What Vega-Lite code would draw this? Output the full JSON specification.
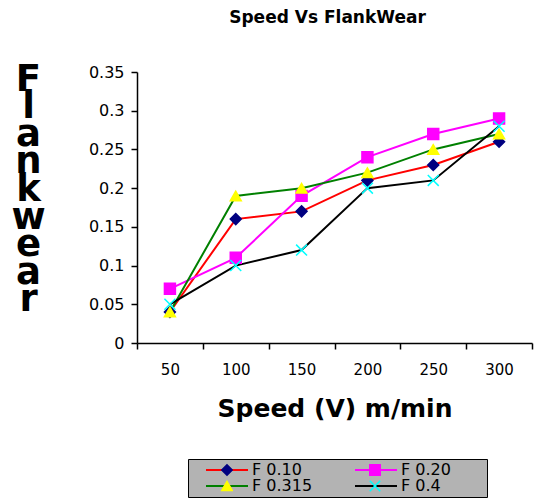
{
  "$schema": "https://vega.github.io/schema/vega-lite/v6.json",
  "width": 395,
  "height": 271,
  "autosize": {"type": "none"},
  "padding": {"left": 137, "top": 72, "right": 2, "bottom": 157},
  "background": "white",
  "title": {"text": "Speed Vs FlankWear", "font": "DejaVu Sans", "fontSize": 17, "fontWeight": "bold", "color": "black", "anchor": "middle", "offset": 33, "dx": -7},
  "config": {
    "view": {"stroke": null},
    "axis": {"domainColor": "black", "tickColor": "black", "domainWidth": 1.5, "tickWidth": 1.5, "labelColor": "black", "titleColor": "black", "grid": false}
  },
  "data": {"values": [
    {"speed": 50, "series": "F 0.10", "wear": 0.04},
    {"speed": 100, "series": "F 0.10", "wear": 0.16},
    {"speed": 150, "series": "F 0.10", "wear": 0.17},
    {"speed": 200, "series": "F 0.10", "wear": 0.21},
    {"speed": 250, "series": "F 0.10", "wear": 0.23},
    {"speed": 300, "series": "F 0.10", "wear": 0.26},
    {"speed": 50, "series": "F 0.20", "wear": 0.07},
    {"speed": 100, "series": "F 0.20", "wear": 0.11},
    {"speed": 150, "series": "F 0.20", "wear": 0.19},
    {"speed": 200, "series": "F 0.20", "wear": 0.24},
    {"speed": 250, "series": "F 0.20", "wear": 0.27},
    {"speed": 300, "series": "F 0.20", "wear": 0.29},
    {"speed": 50, "series": "F 0.315", "wear": 0.04},
    {"speed": 100, "series": "F 0.315", "wear": 0.19},
    {"speed": 150, "series": "F 0.315", "wear": 0.2},
    {"speed": 200, "series": "F 0.315", "wear": 0.22},
    {"speed": 250, "series": "F 0.315", "wear": 0.25},
    {"speed": 300, "series": "F 0.315", "wear": 0.27},
    {"speed": 50, "series": "F 0.4", "wear": 0.05},
    {"speed": 100, "series": "F 0.4", "wear": 0.1},
    {"speed": 150, "series": "F 0.4", "wear": 0.12},
    {"speed": 200, "series": "F 0.4", "wear": 0.2},
    {"speed": 250, "series": "F 0.4", "wear": 0.21},
    {"speed": 300, "series": "F 0.4", "wear": 0.28}
  ]},
  "encoding": {
    "x": {"field": "speed", "type": "ordinal",
      "scale": {"type": "band", "paddingInner": 0, "paddingOuter": 0},
      "axis": {"title": "Speed (V) m/min", "titleFont": "DejaVu Sans", "titleFontSize": 25, "titleFontWeight": "bold", "titlePadding": 19,
               "labelAngle": 0, "labelFont": "DejaVu Sans", "labelFontSize": 15, "labelPadding": 13, "tickSize": 6, "tickBand": "extent"}},
    "y": {"field": "wear", "type": "quantitative",
      "scale": {"domain": [0, 0.35], "nice": false, "zero": true},
      "axis": {"values": [0, 0.05, 0.1, 0.15, 0.2, 0.25, 0.3, 0.35], "format": ".2~f",
               "labelFont": "DejaVu Sans", "labelFontSize": 16, "labelPadding": 7, "tickSize": 6,
               "title": ["F", "l", "a", "n", "k", "w", "e", "a", "r"],
               "titleFont": "DejaVu Sans", "titleFontSize": 37, "titleFontWeight": "bold",
               "titleAngle": 0, "titleAlign": "center", "titleBaseline": "alphabetic",
               "titleLineHeight": 27.6, "titleX": -109, "titleY": 18}}
  },
  "layer": [
    {
      "mark": {"type": "line", "strokeWidth": 2},
      "encoding": {
        "color": {"field": "series", "type": "nominal",
          "scale": {"domain": ["F 0.10", "F 0.20", "F 0.315", "F 0.4"], "range": ["#ff0000", "#ff00ff", "#008000", "#000000"]},
          "legend": {"orient": "none", "legendX": 51, "legendY": 387, "columns": 2, "direction": "horizontal",
                     "title": " ", "titleOrient": "right", "titlePadding": 33, "titleFontSize": 10,
                     "symbolType": "stroke", "symbolSize": 1764, "symbolStrokeWidth": 1.8,
                     "clipHeight": 16, "labelFont": "DejaVu Sans", "labelFontSize": 16, "labelColor": "black",
                     "labelOffset": 3, "symbolOffset": 14, "columnPadding": 27, "rowPadding": 0, "padding": 3,
                     "fillColor": "#b3b3b3", "strokeColor": "black", "labelLimit": 0}}
      }
    },
    {
      "mark": {"type": "point", "filled": true, "opacity": 1, "size": 120, "strokeWidth": 1.5},
      "encoding": {
        "shape": {"field": "series", "type": "nominal",
          "scale": {"range": ["diamond", "square", "triangle-up", "M-1,-1L1,1M-1,1L1,-1"]},
          "legend": {"orient": "none", "legendX": 51, "legendY": 387, "columns": 2, "direction": "horizontal", "title": null,
                     "symbolSize": 110, "symbolStrokeWidth": 1.5, "clipHeight": 16,
                     "labelExpr": "''", "labelOffset": 0, "symbolOffset": 30, "columnPadding": 106, "rowPadding": 0, "padding": 3}},
        "fill": {"field": "series", "type": "nominal",
          "scale": {"range": ["#000080", "#ff00ff", "#ffff00", "transparent"]},
          "legend": {"orient": "none", "legendX": 51, "legendY": 387, "columns": 2, "direction": "horizontal", "title": null,
                     "symbolSize": 110, "symbolStrokeWidth": 1.5, "clipHeight": 16,
                     "labelExpr": "''", "labelOffset": 0, "symbolOffset": 30, "columnPadding": 106, "rowPadding": 0, "padding": 3}},
        "stroke": {"field": "series", "type": "nominal",
          "scale": {"range": ["#000080", "#ff00ff", "#ffff00", "#00ffff"]},
          "legend": {"orient": "none", "legendX": 51, "legendY": 387, "columns": 2, "direction": "horizontal", "title": null,
                     "symbolSize": 110, "symbolStrokeWidth": 1.5, "clipHeight": 16,
                     "labelExpr": "''", "labelOffset": 0, "symbolOffset": 30, "columnPadding": 106, "rowPadding": 0, "padding": 3}}
      }
    }
  ]
}
